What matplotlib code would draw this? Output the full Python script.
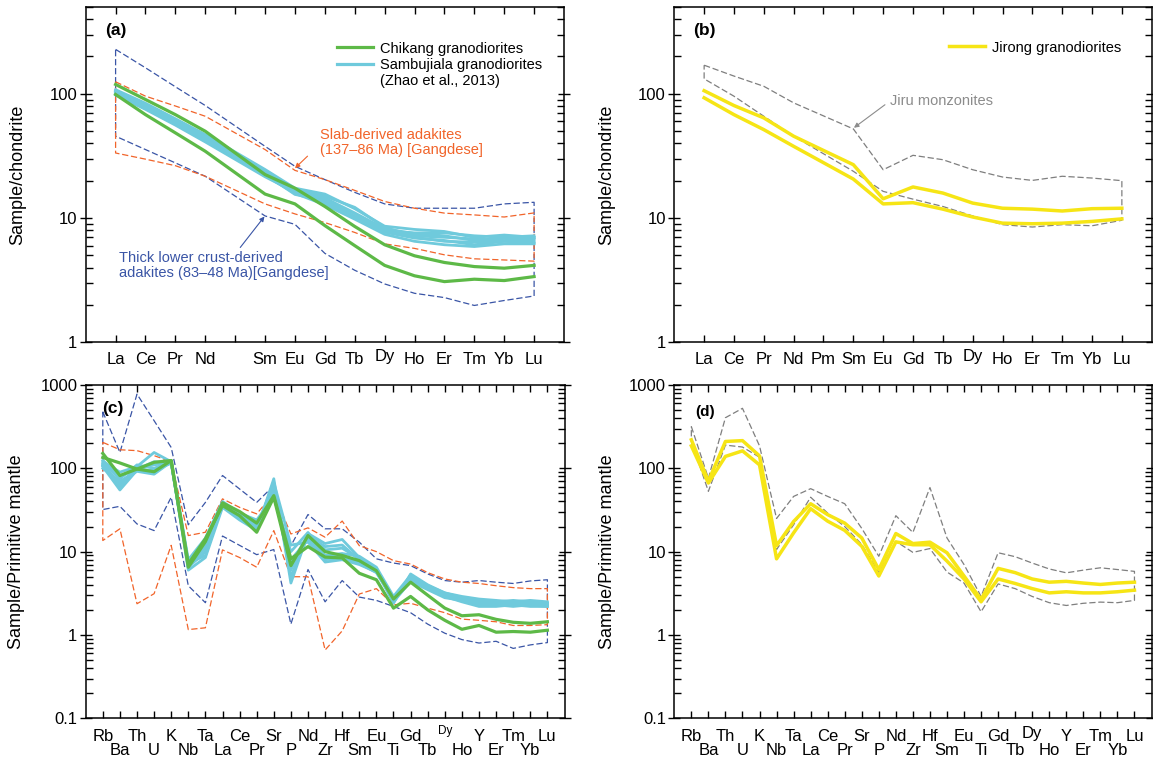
import matplotlib
matplotlib.use('Agg')
import matplotlib.pyplot as plt
from matplotlib.lines import Line2D
from matplotlib.ticker import LogLocator, NullFormatter

plt.rcParams['font.family'] = ['Liberation Sans', 'DejaVu Sans']
plt.rcParams['axes.linewidth'] = 1.1

# ---------------- element lists ----------------
ree_axis = ['La', 'Ce', 'Pr', 'Nd', 'Pm', 'Sm', 'Eu', 'Gd', 'Tb', 'Dy', 'Ho', 'Er', 'Tm', 'Yb', 'Lu']
ree = ['La', 'Ce', 'Pr', 'Nd', 'Sm', 'Eu', 'Gd', 'Tb', 'Dy', 'Ho', 'Er', 'Tm', 'Yb', 'Lu']
spider = ['Rb', 'Ba', 'Th', 'U', 'K', 'Nb', 'Ta', 'La', 'Ce', 'Pr', 'Sr', 'P', 'Nd', 'Zr', 'Hf',
          'Sm', 'Eu', 'Ti', 'Gd', 'Tb', 'Dy', 'Ho', 'Y', 'Er', 'Tm', 'Yb', 'Lu']

# ---------------- (a) chondrite-normalised REE ----------------
slab_ree_upper = [125, 95.8, 79.8, 66, 35.6, 24.2, 20.4, 16.7, 13.6, 12.0, 10.96, 10.6, 10.2, 11.0]
slab_ree_lower = [33.4, 29.8, 26.4, 21.7, 13.0, 10.8, 9.2, 7.66, 6.2, 5.7, 5.06, 4.7, 4.6, 4.5]
crust_ree_upper = [228, 162, 114, 80.5, 37.8, 26.1, 20.4, 16.1, 13.0, 12.0, 12.0, 12.0, 13.0, 13.4]
crust_ree_lower = [45.6, 35.6, 27.8, 21.7, 10.4, 8.9, 5.2, 3.8, 2.95, 2.48, 2.29, 1.98, 2.17, 2.36]

chikang_ree_1 = [119, 90, 68, 50, 22.4, 17.4, 12.4, 8.56, 6.1, 4.97, 4.39, 4.07, 3.95, 4.16]
chikang_ree_2 = [98.8, 68, 48.5, 34.5, 15.6, 13.0, 8.7, 6.0, 4.16, 3.43, 3.08, 3.22, 3.14, 3.38]

sambujiala_ree_1 = [108, 84, 63, 47, 24.6, 17.4, 15.6, 11.9, 8.6, 8.1, 7.8, 7.0, 7.3, 7.0]
sambujiala_ree_2 = [105, 80, 60, 45, 23.5, 16.5, 14.5, 11.0, 8.2, 7.5, 7.2, 6.6, 6.9, 6.8]
sambujiala_ree_3 = [102, 78, 58, 44, 23.0, 16.0, 13.3, 10.3, 7.7, 6.9, 6.6, 6.1, 6.5, 6.3]
sambujiala_ree_4 = [100, 76, 57, 42, 22.0, 15.8, 12.8, 9.8, 7.4, 6.5, 6.1, 5.9, 6.2, 6.2]
sambujiala_ree_5 = [106, 82, 62, 46, 24.0, 17.0, 15.0, 12.2, 8.4, 7.2, 7.0, 6.8, 6.6, 6.9]
sambujiala_ree_6 = [98, 75, 56, 41, 21.5, 16.2, 14.0, 10.8, 7.9, 7.6, 7.6, 7.2, 7.0, 7.2]
sambujiala_ree_7 = [103, 79, 59, 43, 22.5, 15.5, 13.8, 10.2, 8.0, 7.0, 6.5, 6.4, 6.5, 6.5]

# ---------------- (b) chondrite-normalised REE ----------------
jiru_ree_upper = [170, 139, 115, 84.6, 52.2, 24.5, 32, 29.5, 24.5, 21.4, 20.1, 21.7, 21.0, 20.0]
jiru_ree_lower = [132, 95.7, 66, 45.6, 23.8, 16.4, 14.2, 12.4, 10.4, 8.85, 8.47, 8.85, 8.67, 9.6]
jirong_ree_1 = [106, 80.5, 64, 45.6, 26.9, 14.3, 17.8, 15.9, 13.2, 12.0, 11.8, 11.4, 11.9, 12.0]
jirong_ree_2 = [92.9, 68, 51.5, 37.8, 20.6, 13.0, 13.3, 11.8, 10.2, 9.1, 9.0, 9.1, 9.4, 9.85]

# ---------------- (c) primitive-mantle-normalised ----------------
crust_pm_upper = [477, 155, 777, 373, 178, 21, 39, 82, 56.5, 39, 62, 11.8, 27.9, 18.8, 18.8,
                  13, 8.2, 7.3, 6.8, 5.4, 4.5, 4.3, 4.5, 4.3, 4.15, 4.45, 4.6]
crust_pm_lower = [32, 35, 21.5, 17.9, 45, 3.9, 2.44, 15.4, 11.9, 9.2, 10.6, 1.35, 6.1, 2.5, 4.5,
                  2.85, 2.6, 2.2, 1.85, 1.35, 1.05, 0.88, 0.80, 0.84, 0.69, 0.76, 0.81]
slab_pm_upper = [205, 167, 163, 142, 120, 15.6, 17.1, 43, 34, 28.4, 50, 16.3, 19.3, 14.9, 23.3,
                 11.8, 10.0, 7.8, 7.1, 5.6, 4.7, 4.3, 4.15, 3.9, 3.7, 3.6, 3.6]
slab_pm_lower = [13.6, 18.8, 2.37, 3.13, 11.9, 1.16, 1.22, 10.5, 8.5, 6.5, 17.9, 5.0, 5.0, 0.66, 1.12,
                 3.1, 3.6, 2.3, 2.4, 2.1, 1.85, 1.55, 1.5, 1.44, 1.3, 1.3, 1.33]

chikang_pm_1 = [151, 82, 98, 91, 124, 7.1, 14.3, 35.7, 27, 17.1, 45, 6.8, 15.6, 10.0, 9.0,
                7.8, 5.9, 2.7, 4.3, 3.0, 2.1, 1.7, 1.75, 1.54, 1.42, 1.38, 1.44]
chikang_pm_2 = [135, 116, 98, 118, 124, 6.5, 13.2, 38.5, 30.3, 22, 47, 8.2, 11.5, 8.6, 8.4,
                5.5, 4.6, 2.1, 2.9, 2.0, 1.5, 1.17, 1.3, 1.08, 1.1, 1.08, 1.14]

sambujiala_pm_1 = [120, 90, 105, 155, 120, 6.0, 8.5, 34, 24, 18, 75, 4.2, 16.5, 12.5, 14.0,
                   8.5, 6.3, 2.4, 5.4, 4.0, 3.2, 2.8, 2.6, 2.5, 2.6, 2.5, 2.4]
sambujiala_pm_2 = [110, 60, 100, 110, 118, 6.5, 10, 36, 26, 19, 65, 5.0, 15.5, 11.5, 12.0,
                   8.0, 6.0, 2.5, 5.0, 3.8, 3.1, 2.7, 2.4, 2.4, 2.3, 2.4, 2.3]
sambujiala_pm_3 = [105, 55, 95, 95, 115, 7.0, 12, 37, 27, 20, 55, 6.0, 15.0, 8.5, 9.0,
                   7.6, 5.8, 2.6, 4.8, 3.7, 3.0, 2.6, 2.3, 2.3, 2.4, 2.3, 2.3]
sambujiala_pm_4 = [100, 70, 92, 85, 120, 7.5, 13, 39, 28, 22, 50, 8.0, 14.0, 8.0, 8.5,
                   7.2, 5.6, 2.7, 4.6, 3.6, 2.9, 2.5, 2.2, 2.2, 2.3, 2.2, 2.2]
sambujiala_pm_5 = [115, 75, 110, 100, 122, 8.0, 14.5, 40, 29, 24, 45, 10.0, 17.0, 9.0, 9.5,
                   8.8, 6.5, 2.9, 5.2, 3.9, 3.2, 2.9, 2.7, 2.6, 2.5, 2.6, 2.5]
sambujiala_pm_6 = [125, 80, 98, 120, 117, 6.8, 11, 35, 25, 19.5, 68, 12.0, 13.0, 7.5, 8.0,
                   7.0, 5.7, 2.5, 4.4, 3.5, 2.8, 2.6, 2.4, 2.3, 2.2, 2.3, 2.2]
sambujiala_pm_7 = [108, 65, 102, 90, 119, 7.2, 9, 38, 27.5, 21, 58, 7.0, 16.0, 10.5, 11.0,
                   8.2, 6.1, 2.6, 5.1, 3.8, 3.0, 2.7, 2.5, 2.4, 2.4, 2.4, 2.4]

# ---------------- (d) primitive-mantle-normalised ----------------
jiru_pm_upper = [317, 76, 405, 525, 186, 25, 46, 57, 46, 37.6, 19, 8.8, 27, 17, 58.8,
                 14.6, 7.0, 2.9, 9.7, 8.7, 7.3, 6.2, 5.57, 6.0, 6.4, 6.1, 5.8]
jiru_pm_lower = [210, 53, 190, 180, 136, 10.6, 21, 45, 29, 20, 12.2, 5.6, 13.3, 9.8, 10.9,
                 5.7, 4.2, 1.9, 4.1, 3.6, 2.9, 2.44, 2.26, 2.4, 2.48, 2.44, 2.6]
jirong_pm_1 = [220, 70, 210, 215, 141, 11.8, 23, 37.6, 27.8, 22, 14.6, 6.1, 16.5, 12.5, 13,
               9.7, 5.1, 2.67, 6.3, 5.6, 4.7, 4.3, 4.4, 4.2, 4.04, 4.2, 4.3]
jirong_pm_2 = [186, 66.6, 139, 162, 110, 8.2, 16.8, 32.8, 23.2, 18, 11.6, 5.1, 13.1, 12.1, 12.1,
               7.7, 4.7, 2.5, 4.7, 4.15, 3.6, 3.2, 3.3, 3.2, 3.2, 3.3, 3.45]

# ---------------- colours ----------------
C_GREEN = '#5DB947'
C_CYAN = '#6FCADC'
C_BLUE = '#3A55A6'
C_ORANGE = '#F1642A'
C_GREY = '#7F7F7F'
C_YELLOW = '#F6E515'

TICK_FS = 12
W, H = 1153, 759
fig = plt.figure(figsize=(W / 100, H / 100), dpi=100)


def rect(l, r, t, b):
    return [l / W, (H - b) / H, (r - l) / W, (b - t) / H]


axA = fig.add_axes(rect(85.7, 564.0, 7.0, 342.3))
axB = fig.add_axes(rect(674.3, 1151.7, 7.0, 342.3))
axC = fig.add_axes(rect(85.7, 564.5, 385.0, 718.3))
axD = fig.add_axes(rect(674.3, 1151.5, 385.0, 718.3))

ree_x = [ree_axis.index(e) + 1 for e in ree]
sp_x = [spider.index(e) + 1 for e in spider]

DASH = (0, (5, 2.2))


def envelope(ax, xs, upper, lower, color):
    x = list(xs) + list(xs[::-1]) + [xs[0]]
    y = list(upper) + list(lower[::-1]) + [upper[0]]
    ax.plot(x, y, color=color, lw=0.9, ls=DASH, zorder=2)


def style_y(ax, lo, hi, ticks, labels):
    ax.set_yscale('log')
    ax.set_ylim(lo, hi)
    ax.set_yticks(ticks)
    ax.set_yticklabels(labels)
    ax.yaxis.set_minor_locator(LogLocator(base=10, subs=range(2, 10), numticks=20))
    ax.yaxis.set_minor_formatter(NullFormatter())
    ax.tick_params(axis='y', which='major', direction='inout', left=True, right=True,
                   length=9, width=1, pad=1.5, labelsize=TICK_FS)
    ax.tick_params(axis='y', which='minor', direction='in', left=True, right=True,
                   length=5, width=1)


def dy_label(ax, xpos, pad_pts, size, raise_pts):
    ax.annotate('Dy', xy=(xpos, 0), xycoords=ax.get_xaxis_transform(),
                xytext=(0, -pad_pts + raise_pts), textcoords='offset points',
                ha='center', va='top', fontsize=size)


def style_ree(ax, show_pm):
    ax.set_xlim(0, 16)
    style_y(ax, 1, 500, [1, 10, 100], ['1', '10', '100'])
    ax.set_xticks(range(1, 16))
    labs = []
    for e in ree_axis:
        if e == 'Dy' or (e == 'Pm' and not show_pm):
            labs.append('')
        else:
            labs.append(e)
    ax.set_xticklabels(labs)
    ax.tick_params(axis='x', which='major', direction='in', top=True, bottom=True,
                   length=5, width=1, pad=7.0, labelsize=TICK_FS)
    dy_label(ax, ree_axis.index('Dy') + 1, 7.0, TICK_FS, 2.5)
    ax.set_ylabel('Sample/chondrite', fontsize=13, va='center', ha='center')


def style_spider(ax, dy_size, dy_raise):
    ax.set_xlim(0, 28)
    style_y(ax, 0.1, 1000, [0.1, 1, 10, 100, 1000], ['0.1', '1', '10', '100', '1000'])
    odd = [i + 1 for i in range(0, len(spider), 2)]
    even = [i + 1 for i in range(1, len(spider), 2)]
    ax.set_xticks(odd)
    ax.set_xticks(even, minor=True)
    ax.set_xticklabels(['' if spider[p - 1] == 'Dy' else spider[p - 1] for p in odd])
    ax.set_xticklabels([spider[p - 1] for p in even], minor=True)
    ax.tick_params(axis='x', which='major', direction='in', top=True, bottom=True,
                   length=5, width=1, pad=7.5, labelsize=TICK_FS)
    ax.tick_params(axis='x', which='minor', direction='in', top=True, bottom=True,
                   length=5, width=1, pad=18.0, labelsize=TICK_FS)
    dy_label(ax, spider.index('Dy') + 1, 7.5, dy_size, dy_raise)
    ax.set_ylabel('Sample/Primitive mantle', fontsize=13, va='center', ha='center')


# ---------------- panel (a) ----------------
envelope(axA, ree_x, crust_ree_upper, crust_ree_lower, C_BLUE)
envelope(axA, ree_x, slab_ree_upper, slab_ree_lower, C_ORANGE)
for s in [sambujiala_ree_1, sambujiala_ree_2, sambujiala_ree_3, sambujiala_ree_4,
          sambujiala_ree_5, sambujiala_ree_6, sambujiala_ree_7]:
    axA.plot(ree_x, s, color=C_CYAN, lw=2.0, zorder=3, solid_joinstyle='round')
for s in [chikang_ree_1, chikang_ree_2]:
    axA.plot(ree_x, s, color=C_GREEN, lw=2.3, zorder=4, solid_joinstyle='round')
style_ree(axA, show_pm=False)
axA.yaxis.set_label_coords(-0.1426, 0.5)
axA.text(0.041, 0.93, '(a)', transform=axA.transAxes, fontsize=12.5, fontweight='bold',
         ha='left', va='center')
axA.legend(handles=[Line2D([], [], color=C_GREEN, lw=2.3),
                    Line2D([], [], color=C_CYAN, lw=2.3),
                    Line2D([], [], color='none')],
           labels=['Chikang granodiorites', 'Sambujiala granodiorites', '(Zhao et al., 2013)'],
           loc='upper left', bbox_to_anchor=(0.5254, 0.897), frameon=False, fontsize=10.5,
           handlelength=2.5, handletextpad=0.45, labelspacing=0.15, borderpad=0,
           borderaxespad=0)
axA.text(7.85, 40.3, 'Slab-derived adakites\n(137\u201386 Ma) [Gangdese]', color=C_ORANGE,
         fontsize=10.5, ha='left', va='center', linespacing=1.1)
axA.annotate('', xy=(7.0, 25.2), xytext=(7.42, 31.5),
             arrowprops=dict(arrowstyle='-|>', color=C_ORANGE, lw=0.8, mutation_scale=7,
                             shrinkA=0, shrinkB=0))
axA.text(1.12, 4.16, 'Thick lower crust-derived\nadakites (83\u201348 Ma)[Gangdese]', color=C_BLUE,
         fontsize=10.5, ha='left', va='center', linespacing=1.1)
axA.annotate('', xy=(5.98, 10.3), xytext=(5.17, 5.8),
             arrowprops=dict(arrowstyle='-|>', color=C_BLUE, lw=0.8, mutation_scale=7,
                             shrinkA=0, shrinkB=0))

# ---------------- panel (b) ----------------
envelope(axB, ree_x, jiru_ree_upper, jiru_ree_lower, C_GREY)
for s in [jirong_ree_1, jirong_ree_2]:
    axB.plot(ree_x, s, color=C_YELLOW, lw=2.5, zorder=4, solid_joinstyle='round')
style_ree(axB, show_pm=True)
axB.yaxis.set_label_coords(-0.141, 0.5)
axB.text(0.040, 0.93, '(b)', transform=axB.transAxes, fontsize=12.5, fontweight='bold',
         ha='left', va='center')
axB.legend(handles=[Line2D([], [], color=C_YELLOW, lw=2.5)], labels=['Jirong granodiorites'],
           loc='upper left', bbox_to_anchor=(0.575, 0.90), frameon=False, fontsize=10.5,
           handlelength=2.5, handletextpad=0.45, borderpad=0, borderaxespad=0)
axB.text(7.23, 86.9, 'Jiru monzonites', color='#8C8C8C', fontsize=10.5, ha='left', va='center')
axB.annotate('', xy=(6.02, 53.3), xytext=(7.06, 81.7),
             arrowprops=dict(arrowstyle='-|>', color='#8C8C8C', lw=0.8, mutation_scale=7,
                             shrinkA=0, shrinkB=0))

# ---------------- panel (c) ----------------
envelope(axC, sp_x, crust_pm_upper, crust_pm_lower, C_BLUE)
envelope(axC, sp_x, slab_pm_upper, slab_pm_lower, C_ORANGE)
for s in [sambujiala_pm_1, sambujiala_pm_2, sambujiala_pm_3, sambujiala_pm_4,
          sambujiala_pm_5, sambujiala_pm_6, sambujiala_pm_7]:
    axC.plot(sp_x, s, color=C_CYAN, lw=2.0, zorder=3, solid_joinstyle='round')
for s in [chikang_pm_1, chikang_pm_2]:
    axC.plot(sp_x, s, color=C_GREEN, lw=2.3, zorder=4, solid_joinstyle='round')
style_spider(axC, dy_size=8.5, dy_raise=3)
axC.yaxis.set_label_coords(-0.144, 0.5)
axC.text(0.035, 0.93, '(c)', transform=axC.transAxes, fontsize=12.5, fontweight='bold',
         ha='left', va='center')

# ---------------- panel (d) ----------------
envelope(axD, sp_x, jiru_pm_upper, jiru_pm_lower, C_GREY)
for s in [jirong_pm_1, jirong_pm_2]:
    axD.plot(sp_x, s, color=C_YELLOW, lw=2.5, zorder=4, solid_joinstyle='round')
style_spider(axD, dy_size=TICK_FS, dy_raise=2)
axD.yaxis.set_label_coords(-0.140, 0.5)
axD.text(0.043, 0.92, '(d)', transform=axD.transAxes, fontsize=11, fontweight='bold',
         ha='left', va='center')

fig.savefig('out.png', dpi=100)
